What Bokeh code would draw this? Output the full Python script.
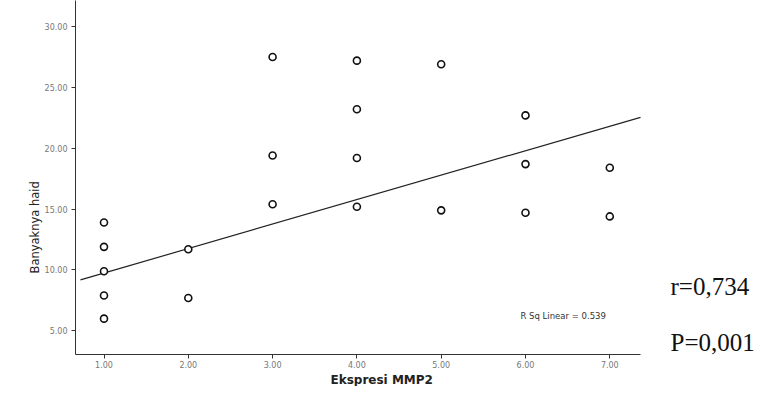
import math
from bokeh.plotting import figure
from bokeh.models import Range1d, FixedTicker, Label, ColumnDataSource, Title
from bokeh.embed import file_html
from bokeh.resources import INLINE

# ---- data ----
x_vals = [1, 1, 1, 1, 1,
          2, 2,
          3, 3, 3,
          4, 4, 4, 4,
          5, 5,
          6, 6, 6,
          7, 7]
y_vals = [13.9, 11.9, 9.9, 7.9, 6.0,
          11.7, 7.7,
          27.5, 19.4, 15.4,
          27.2, 23.2, 19.2, 15.2,
          26.9, 14.9,
          22.7, 18.7, 14.7,
          18.4, 14.4]
x_ticks = [1, 2, 3, 4, 5, 6, 7]
x_tick_labels = ["1.00", "2.00", "3.00", "4.00", "5.00", "6.00", "7.00"]
y_ticks = [5, 10, 15, 20, 25, 30]
y_tick_labels = ["5.00", "10.00", "15.00", "20.00", "25.00", "30.00"]
fit_intercept = 7.74
fit_slope = 2.01
r_sq_text = "R Sq Linear = 0.539"
r_text = "r=0,734"
p_text = "P=0,001"
x_title = "Ekspresi MMP2"
y_title = "Banyaknya haid"

# ---- layout ----
PX_X = 84.3      # pixels per x unit
PX_Y = 12.24     # pixels per y unit
X0 = 1 - 28.5 / PX_X
X1 = X0 + 683 / PX_X
Y1 = 10 + 271 / PX_Y
Y0 = 10 - 85 / PX_Y
AX_END = 1 + (640 - 103.5) / PX_X

def dx(px):
    return 1 + (px - 103.5) / PX_X

def dy(py):
    return 10 + (271 - py) / PX_Y

p = figure(width=758, height=386, output_backend="svg", toolbar_location=None,
           x_range=Range1d(X0, X1), y_range=Range1d(Y0, Y1),
           min_border_left=75, min_border_right=0, min_border_top=0, min_border_bottom=30)
p.outline_line_color = None
p.grid.visible = False
p.background_fill_color = "white"
p.border_fill_color = "white"

for ax in (p.xaxis[0], p.yaxis[0]):
    ax.axis_line_color = "#333333"
    ax.axis_line_width = 1
    ax.major_tick_line_color = "#333333"
    ax.major_tick_out = 4
    ax.major_tick_in = 0
    ax.minor_tick_line_color = None
    ax.major_label_text_font = "DejaVu Sans"
    ax.major_label_text_font_size = "8px"
    ax.major_label_text_color = "#777777"

p.xaxis[0].ticker = FixedTicker(ticks=x_ticks)
p.xaxis[0].major_label_overrides = {t: l for t, l in zip(x_ticks, x_tick_labels)}
p.xaxis[0].bounds = (X0, AX_END)
p.xaxis[0].major_label_standoff = 2
p.yaxis[0].ticker = FixedTicker(ticks=y_ticks)
p.yaxis[0].major_label_overrides = {t: l for t, l in zip(y_ticks, y_tick_labels)}
p.yaxis[0].major_label_standoff = 4

# fit line
fx = [dx(80), AX_END]
fy = [fit_intercept + fit_slope * v for v in fx]
p.line(fx, fy, line_color="#222222", line_width=1.2)

# points
src = ColumnDataSource(dict(x=x_vals, y=y_vals))
p.scatter("x", "y", source=src, marker="circle", size=7, fill_color="white",
          line_color="#111111", line_width=1.6)

# texts inside the frame
p.add_layout(Label(x=dx(520), y=dy(317), text=r_sq_text,
                   text_font="DejaVu Sans", text_font_size="8.5px", text_color="#333333",
                   text_baseline="middle", text_align="left"))
p.add_layout(Label(x=dx(670), y=dy(288), text=r_text,
                   text_font="Liberation Serif", text_font_size="25px", text_color="#111111",
                   text_baseline="middle", text_align="left"))
p.add_layout(Label(x=dx(670), y=dy(344), text=p_text,
                   text_font="Liberation Serif", text_font_size="25px", text_color="#111111",
                   text_baseline="middle", text_align="left"))

# axis titles as side titles
xt = Title(text=x_title, align="left", offset=255, standoff=0,
           text_font="DejaVu Sans", text_font_size="12px", text_font_style="bold",
           text_color="#222222")
p.add_layout(xt, "below")
yt = Title(text=y_title, align="left", offset=81, standoff=0,
           text_font="DejaVu Sans", text_font_size="11.5px", text_font_style="normal",
           text_color="#222222")
p.add_layout(yt, "left")

open("out.html", "w").write(file_html(p, INLINE))
